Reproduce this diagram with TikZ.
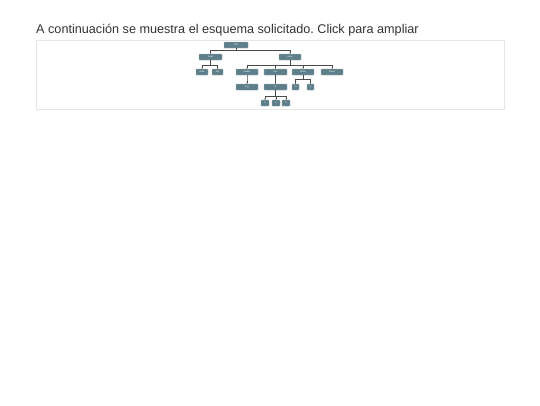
\documentclass[tikz,border=0pt]{standalone}
\usepackage{fontspec}
\setmainfont{Liberation Sans}
\usetikzlibrary{arrows.meta}
\frenchspacing
\definecolor{nodefill}{HTML}{5E7F8A}
\definecolor{nodeedge}{HTML}{8FAAB2}
\definecolor{linecol}{HTML}{4A4A4A}
\definecolor{titlecol}{HTML}{333333}
\definecolor{framecol}{HTML}{E6E6E6}
\tikzset{
  tag/.style={draw=nodeedge, line width=0.3pt, fill=nodefill, rounded corners=0.6pt,
    minimum height=6pt, inner sep=0pt, text=white, font=\fontsize{2.2}{2.5}\selectfont},
  conn/.style={draw=linecol, line width=0.75pt, -{Stealth[length=1.3pt,width=1.4pt]}},
}
\begin{document}
\begin{tikzpicture}[x=1pt,y=-1pt]
\useasboundingbox (0,0) rectangle (540,405);
\fill[white] (0,0) rectangle (540,405);
\node[anchor=base west, inner sep=0pt, text=titlecol, font=\fontsize{12.65}{14}\selectfont] (title) at (36,33)
  {A continuación se muestra el esquema solicitado. Click para ampliar};
\draw[framecol, line width=0.6pt, fill=white] (36,40) rectangle (504,109);
% nodes
\node[tag, minimum width=24pt] (html) at (236,45) {html};
\node[tag, minimum width=23pt] (head) at (210.5,57) {head};
\node[tag, minimum width=22pt] (body) at (290,57) {body};
\node[tag, minimum width=12pt] (meta) at (202,72) {meta};
\node[tag, minimum width=11pt] (titl) at (217.5,72) {title};
\node[tag, minimum width=22pt] (header) at (247,72) {header};
\node[tag, minimum width=23pt] (nav) at (275.5,72) {nav};
\node[tag, minimum width=22pt] (article) at (303,72) {article};
\node[tag, minimum width=22pt] (footer) at (332,72) {footer};
\node[tag, minimum width=22pt] (img) at (247,87) {img};
\node[tag, minimum width=23pt] (ul) at (275.5,87) {ul};
\node[tag, minimum width=7pt] (h1) at (295.5,87) {h1};
\node[tag, minimum width=7pt] (p) at (310.5,87) {p};
\node[tag, minimum width=8pt] (li1) at (265,103) {li};
\node[tag, minimum width=8pt] (li2) at (276,103) {li};
\node[tag, minimum width=8pt] (li3) at (286,103) {li};
% bar levels
\coordinate (b1) at (0,50);
\coordinate (b2) at (0,65);
\coordinate (b3) at (0,79.5);
\coordinate (b4) at (0,96);
% connectors
\foreach \pa/\br/\ch in {html/b1/head, html/b1/body, head/b2/meta, head/b2/titl,
  body/b2/header, body/b2/nav, body/b2/article, body/b2/footer,
  header/b3/img, nav/b3/ul, article/b3/h1, article/b3/p,
  ul/b4/li1, ul/b4/li2, ul/b4/li3}
  \draw[conn] (\pa.south) -- (\pa.south |- \br) -| (\ch.north);
\end{tikzpicture}
\end{document}
